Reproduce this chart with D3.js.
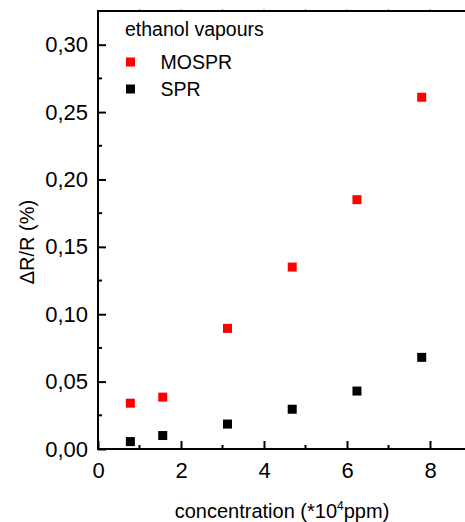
<!DOCTYPE html>
<html>
<head>
<meta charset="utf-8">
<script src="https://cdn.jsdelivr.net/npm/d3@7"></script>
<style>
  body { margin: 0; background: #fff; }
  svg { font-family: "Liberation Sans", Arial, sans-serif; }
</style>
</head>
<body>
<script>
var conc = [0.78, 1.56, 3.12, 4.68, 6.24, 7.8]
var mospr = [0.034, 0.0385, 0.0895, 0.135, 0.185, 0.261]
var spr = [0.0055, 0.0100, 0.0185, 0.0295, 0.043, 0.068]
var xTicks = [0, 2, 4, 6, 8]
var yTicks = [0, 0.05, 0.10, 0.15, 0.20, 0.25, 0.30]
var series = [
  { name: "MOSPR", values: mospr, color: "#ff0000" },
  { name: "SPR", values: spr, color: "#000000" }
]

;(function() {
  var W = 465, H = 522
  var mLeft = 98, mTop = 11, mBottom = 449

  var x = d3.scaleLinear().domain([0, 9]).range([mLeft, mLeft + 9 * 41.5])
  var y = d3.scaleLinear().domain([0, 0.325]).range([mBottom, mTop])

  var svg = d3.select("body").append("svg")
      .attr("width", W)
      .attr("height", H)

  var fmt = function(d) { return d3.format(".2f")(d).replace(".", ",") }

  // left axis
  var yAxis = svg.append("g")
      .attr("transform", "translate(" + mLeft + ",0)")
      .call(d3.axisLeft(y).tickValues(yTicks).tickSize(-8).tickPadding(10).tickFormat(fmt))
  yAxis.select(".domain").remove()
  yAxis.selectAll(".tick line").attr("stroke", "#000").attr("stroke-width", 2)
  yAxis.selectAll("text").attr("font-size", 22).attr("fill", "#000")

  // minor y ticks
  svg.append("g").selectAll("line")
      .data(d3.range(0.025, 0.325, 0.05))
      .enter().append("line")
      .attr("x1", mLeft).attr("x2", mLeft + 4)
      .attr("y1", function(d) { return y(d) }).attr("y2", function(d) { return y(d) })
      .attr("stroke", "#000").attr("stroke-width", 2)

  // bottom axis
  var xAxis = svg.append("g")
      .attr("transform", "translate(0," + mBottom + ")")
      .call(d3.axisBottom(x).tickValues(xTicks).tickSize(-8).tickPadding(13).tickFormat(d3.format("d")))
  xAxis.select(".domain").remove()
  xAxis.selectAll(".tick line").attr("stroke", "#000").attr("stroke-width", 2)
  xAxis.selectAll("text").attr("font-size", 22).attr("fill", "#000")

  // minor x ticks
  svg.append("g").selectAll("line")
      .data([1, 3, 5, 7])
      .enter().append("line")
      .attr("x1", function(d) { return x(d) }).attr("x2", function(d) { return x(d) })
      .attr("y1", mBottom).attr("y2", mBottom - 4)
      .attr("stroke", "#000").attr("stroke-width", 2)

  // top axis tiny ticks
  svg.append("g").selectAll("line")
      .data(d3.range(1, 9))
      .enter().append("line")
      .attr("x1", function(d) { return x(d) }).attr("x2", function(d) { return x(d) })
      .attr("y1", mTop).attr("y2", mTop - 2)
      .attr("stroke", "#888").attr("stroke-width", 1)

  // frame lines
  svg.append("line").attr("x1", mLeft).attr("x2", W).attr("y1", mTop).attr("y2", mTop)
      .attr("stroke", "#000").attr("stroke-width", 2)
  svg.append("line").attr("x1", mLeft).attr("x2", W).attr("y1", mBottom).attr("y2", mBottom)
      .attr("stroke", "#000").attr("stroke-width", 2)
  svg.append("line").attr("x1", mLeft).attr("x2", mLeft).attr("y1", mTop - 1).attr("y2", mBottom + 1)
      .attr("stroke", "#000").attr("stroke-width", 2)

  // points
  var s = 9
  series.forEach(function(ser) {
    svg.append("g").selectAll("rect")
      .data(ser.values)
      .enter().append("rect")
      .attr("x", function(d, i) { return x(conc[i]) - s / 2 })
      .attr("y", function(d) { return y(d) - s / 2 })
      .attr("width", s).attr("height", s)
      .attr("fill", ser.color)
  })

  // legend
  svg.append("text").attr("x", 125).attr("y", 36).attr("font-size", 19.5).text("ethanol vapours")
  var leg = svg.append("g").selectAll("g")
      .data(series)
      .enter().append("g")
      .attr("transform", function(d, i) { return "translate(130.5," + (62 + i * 27) + ")" })
  leg.append("rect").attr("x", -4.5).attr("y", -4.5).attr("width", 9).attr("height", 9)
      .attr("fill", function(d) { return d.color })
  leg.append("text").attr("x", 30).attr("y", 7).attr("font-size", 19.5)
      .text(function(d) { return d.name })

  // axis titles
  svg.append("text")
      .attr("transform", "translate(34,242) rotate(-90)")
      .attr("text-anchor", "middle")
      .attr("font-size", 20)
      .text("\u0394R/R (%)")

  var xt = svg.append("text")
      .attr("x", 282).attr("y", 518)
      .attr("text-anchor", "middle")
      .attr("font-size", 20)
  xt.append("tspan").text("concentration (*10")
  xt.append("tspan").attr("dy", -8).attr("font-size", 12).text("4")
  xt.append("tspan").attr("dy", 8).text("ppm)")
})()
</script>
</body>
</html>
